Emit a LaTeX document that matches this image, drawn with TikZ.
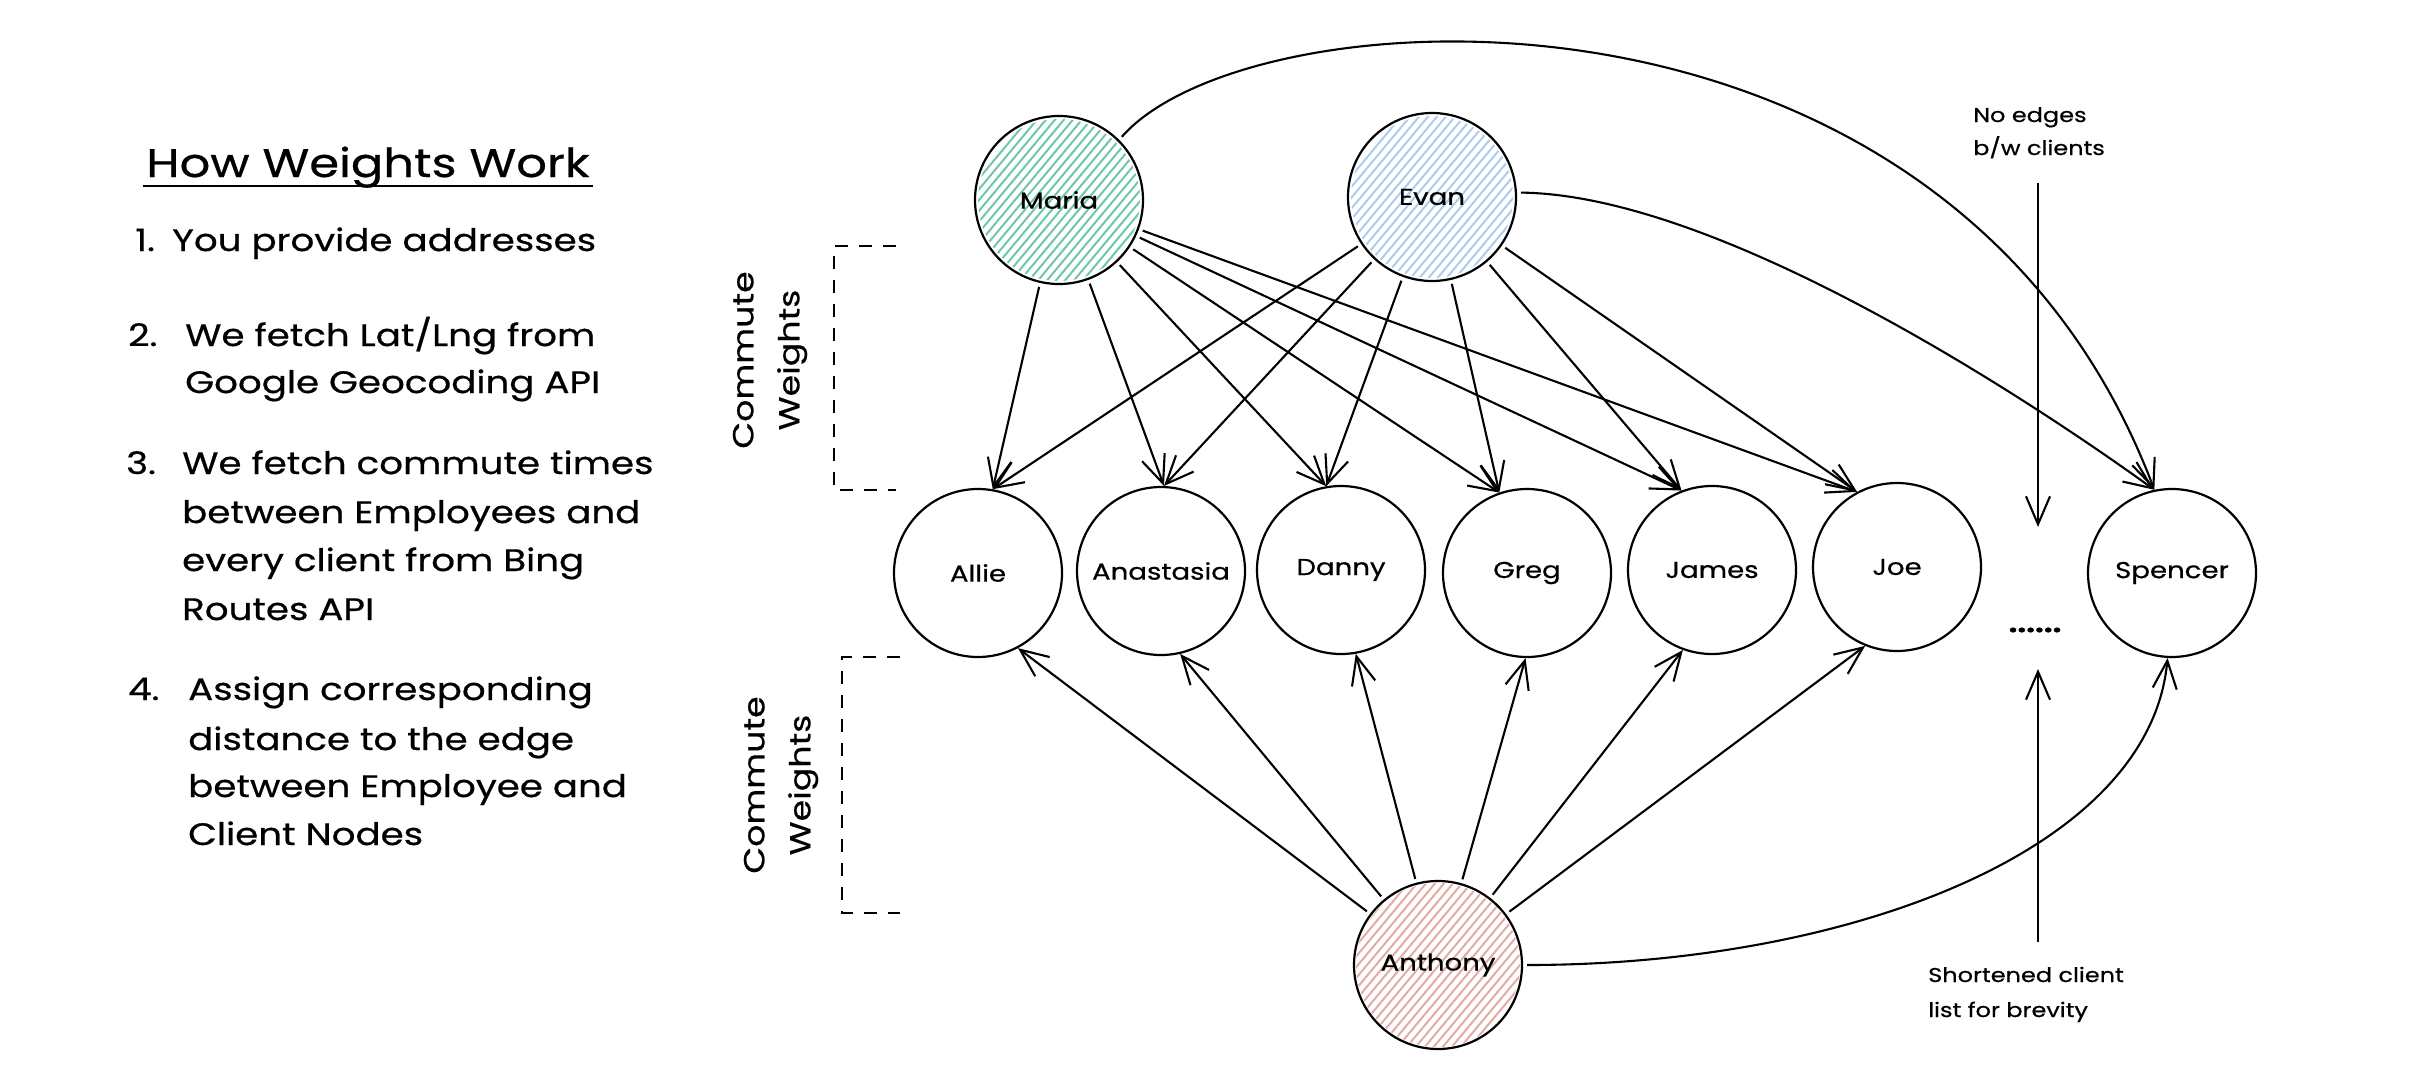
\documentclass[tikz,border=0pt]{standalone}
\usepackage{fontspec}
\setmainfont[FakeStretch=1.2,FakeBold=0.6]{Poppins}
\usetikzlibrary{arrows.meta}
\definecolor{mariaC}{RGB}{110,200,168}
\definecolor{evanC}{RGB}{170,204,238}
\definecolor{anthC}{RGB}{228,170,164}
\newcommand\hachcircle[4]{%
  \begin{scope}
    \clip (#1,#2) circle (#3);
    \foreach \s in {-143,-134,...,143}{
      \draw[#4, line width=2pt, line cap=round] (#1+\s-80,#2+96) -- (#1+\s+80,#2-96);
    }
  \end{scope}}
\tikzset{
  person/.style={circle, draw=black, line width=2.2pt, minimum size=168pt, inner sep=0pt,
    font=\fontsize{23}{28}\selectfont},
  link/.style={line width=2.1pt, shorten <=4pt, -{Straight Barb[length=28pt,width=24pt,line width=2.1pt]}},
  listtxt/.style={anchor=base west, inner sep=0pt, font=\fontsize{31}{40}\selectfont},
  note/.style={anchor=base west, inner sep=0pt, font=\fontsize{20}{26}\selectfont},
  sidelabel/.style={rotate=90, align=center, inner sep=0pt, font=\fontsize{29}{46}\selectfont},
  bracket/.style={line width=1.8pt, dash pattern=on 13pt off 11pt}
}
\begin{document}
\begin{tikzpicture}[x=1pt,y=-1pt]
\useasboundingbox (0,0) rectangle (2414,1076);
\fill[white] (0,0) rectangle (2414,1076);

% left text
\node[anchor=base, inner sep=0pt, font=\fontsize{40}{48}\selectfont] (title) at (368,177) {How Weights Work};
\draw[line width=2.5pt] (143,186) -- (593,186);

\node[listtxt] (n1) at (135,251) {1.};
\node[listtxt] (l1) at (172,251) {You provide addresses};
\node[listtxt] (n2) at (128,346) {2.};
\node[listtxt] (l2a) at (185,346) {We fetch Lat/Lng from};
\node[listtxt] (l2b) at (185,393) {Google Geocoding API};
\node[listtxt] (n3) at (126,474) {3.};
\node[listtxt] (l3a) at (182,474) {We fetch commute times};
\node[listtxt] (l3b) at (182,523) {between Employees and};
\node[listtxt] (l3c) at (182,571) {every client from Bing};
\node[listtxt] (l3d) at (182,620) {Routes API};
\node[listtxt] (n4) at (128,700) {4.};
\node[listtxt] (l4a) at (188,700) {Assign corresponding};
\node[listtxt] (l4b) at (188,750) {distance to the edge};
\node[listtxt] (l4c) at (188,797) {between Employee and};
\node[listtxt] (l4d) at (188,845) {Client Nodes};

% side labels and brackets
\node[sidelabel] (cw1) at (770,360) {Commute\\Weights};
\node[sidelabel] (cw2) at (781,785) {Commute\\Weights};
\draw[bracket] (896,246) -- (834,246) -- (834,490) -- (896,490);
\draw[bracket] (900,657) -- (842,657) -- (842,913) -- (900,913);

% hachure fills
\hachcircle{1059}{200}{81}{mariaC}
\hachcircle{1432}{197}{81}{evanC}
\hachcircle{1438}{965}{82}{anthC}

% employee nodes
\node[person] (maria) at (1059,200) {Maria};
\node[person] (evan) at (1432,197) {Evan};
\node[person] (anthony) at (1438,965) {Anthony};

% client nodes
\node[person] (allie) at (978,573) {Allie};
\node[person] (anastasia) at (1161,571) {Anastasia};
\node[person] (danny) at (1341,570) {Danny};
\node[person] (greg) at (1527,573) {Greg};
\node[person] (james) at (1712,570) {James};
\node[person] (joe) at (1897,567) {Joe};
\node[person] (spencer) at (2172,573) {Spencer};

\node[inner sep=0pt, font=\bfseries\fontsize{26}{30}\selectfont] (dots) at (2035,630) {......};

% edges
\foreach \c/\a in {allie/80, anastasia/88, danny/100, greg/109, james/111, joe/118} {
  \draw[link] (maria) -- (\c.\a);
  \draw[link] (evan) -- (\c.\a);
}
\foreach \c/\a in {allie/-62, anastasia/-77, danny/-80, greg/-91, james/-110, joe/-112} {
  \draw[link] (anthony) -- (\c.\a);
}
\draw[link] (maria.45) .. controls (1250,-10) and (1950,-50) .. (spencer.102);
\draw[link] (evan.3) .. controls (1720,195) and (2030,400) .. (spencer.102);
\draw[link] (anthony.0) .. controls (1850,965) and (2150,850) .. (spencer.-93);

% notes
\node[note] (noedge1) at (1973,122) {No edges};
\node[note] (noedge2) at (1973,155) {b/w clients};
\coordinate (downA) at (2038,183);
\coordinate (downB) at (2038,527);
\draw[link, shorten <=0pt] (downA) -- (downB);
\node[note] (short1) at (1928,982) {Shortened client};
\node[note] (short2) at (1928,1017) {list for brevity};
\coordinate (upA) at (2038,942);
\coordinate (upB) at (2038,669);
\draw[link, shorten <=0pt] (upA) -- (upB);
\end{tikzpicture}
\end{document}
